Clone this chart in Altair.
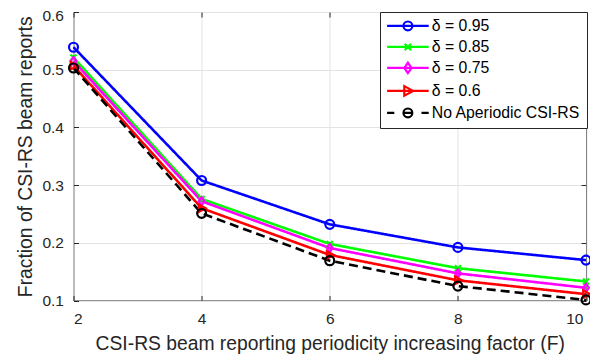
import altair as alt
import pandas as pd

F = [2, 4, 6, 8, 10]
Y_TICKS = [0.1, 0.2, 0.3, 0.4, 0.5, 0.6]
series = ["δ = 0.95", "δ = 0.85", "δ = 0.75", "δ = 0.6", "No Aperiodic CSI-RS"]
d095 = [0.539, 0.308, 0.232, 0.192, 0.170]
d085 = [0.521, 0.276, 0.198, 0.156, 0.133]
d075 = [0.515, 0.272, 0.191, 0.147, 0.122]
d060 = [0.507, 0.260, 0.179, 0.135, 0.111]
dnone = [0.503, 0.251, 0.169, 0.125, 0.101]
colors = ["#0000ff", "#00ff00", "#ff00ff", "#ff0000", "#000000"]
dashes = [[1, 0], [1, 0], [1, 0], [1, 0], [9, 5]]

values = [d095, d085, d075, d060, dnone]
rows = []
for i, (s, vals) in enumerate(zip(series, values)):
    for f, v in zip(F, vals):
        rows.append({"F": f, "value": v, "series": s, "k": i})
df = pd.DataFrame(rows)

FONT = "Liberation Sans"
TXT = "#262626"

xs = alt.Scale(domain=[2, 10], nice=False)
ys = alt.Scale(domain=[0.1, 0.6], nice=False)

x_enc = alt.X("F:Q", scale=xs,
              axis=alt.Axis(values=F, format="d", labelPadding=11, titlePadding=7,
                            labelOffset={"condition": {"test": "datum.value > 9", "value": -3}, "value": 0},
                            title="CSI-RS beam reporting periodicity increasing factor (F)"))
y_enc = alt.Y("value:Q", scale=ys,
              axis=alt.Axis(values=Y_TICKS, format=".1f", labelPadding=10, titlePadding=6,
                            labelOffset={"condition": {"test": "datum.value > 0.55", "value": 3.5}, "value": 0},
                            title="Fraction of CSI-RS beam reports"))

color_scale = alt.Scale(domain=series, range=colors)

plot_shapes = [
    ("circle", 80),
    ("M-1,-1L1,1M-1,1L1,-1", 36),
    ("M0,-1.3L0.9,0L0,1.3L-0.9,0Z", 40),
    ("M-0.9,-1.2L1.3,0L-0.9,1.2Z", 40),
    ("circle", 80),
]

layers = []
for s, c, dsh in zip(series, colors, dashes):
    layers.append(
        alt.Chart(df).transform_filter(alt.datum.series == s).mark_line(
            strokeWidth=2.6, color=c, strokeDash=dsh
        ).encode(x=x_enc, y=y_enc)
    )
for s, c, (shp, sz) in zip(series, colors, plot_shapes):
    layers.append(
        alt.Chart(df).transform_filter(alt.datum.series == s).mark_point(
            shape=shp, size=sz, strokeWidth=2.2, filled=False, color=c, opacity=1
        ).encode(x=x_enc, y=y_enc)
    )

legend_paths = [
    "M-5.2,0H5.2M1.1,0A1.1,1.1,0,1,1,-1.1,0A1.1,1.1,0,1,1,1.1,0",
    "M-5.2,0H5.2M-0.8,-0.8L0.8,0.8M-0.8,0.8L0.8,-0.8",
    "M-5.2,0H5.2M0,-1.3L0.9,0L0,1.3L-0.9,0Z",
    "M-5.2,0H5.2M-0.9,-1.2L1.3,0L-0.9,1.2Z",
    "M-5.2,0H-3.4M3.4,0H5.2M-1.1,0H1.1M1.1,0A1.1,1.1,0,1,1,-1.1,0A1.1,1.1,0,1,1,1.1,0",
]

leg_props = dict(
    title=None, orient="none", legendX=306.5, legendY=0,
    padding=6, fillColor="white", strokeColor=TXT, cornerRadius=0,
    symbolSize=64, symbolStrokeWidth=2.2, symbolOffset=14,
    labelOffset=16, labelFont=FONT, labelFontSize=15.8, labelColor="black",
    rowPadding=3, labelLimit=300,
)

legend_layer = alt.Chart(df).mark_point(opacity=0, filled=False).encode(
    x=x_enc, y=y_enc,
    color=alt.Color("series:N", scale=color_scale, legend=alt.Legend(**leg_props)),
    shape=alt.Shape("series:N", scale=alt.Scale(domain=series, range=legend_paths),
                    legend=alt.Legend(**leg_props)),
)
layers.append(legend_layer)

main = alt.layer(*layers)


def tick_axis(orient, values):
    return alt.Axis(orient=orient, offset=-5, tickSize=5, ticks=True, tickColor=TXT,
                    tickWidth=1, labels=False, domain=False, grid=False, title=None,
                    values=values)


ticks_a = alt.Chart(df).mark_point(opacity=0).encode(
    x=alt.X("F:Q", scale=xs, axis=tick_axis("bottom", F)),
    y=alt.Y("value:Q", scale=ys, axis=tick_axis("left", Y_TICKS)),
)
ticks_b = alt.Chart(df).mark_point(opacity=0).encode(
    x=alt.X("F:Q", scale=xs, axis=tick_axis("top", F)),
    y=alt.Y("value:Q", scale=ys, axis=tick_axis("right", Y_TICKS)),
)

chart = alt.layer(main, ticks_a, ticks_b).resolve_axis(
    x="independent", y="independent"
).properties(
    width=512.5, height=288.5,
    autosize=alt.AutoSizeParams(type="none"),
    padding={"left": 65.5, "top": 4, "right": 4, "bottom": 57},
).configure_view(
    stroke=TXT, strokeWidth=1
).configure_axis(
    labelFont=FONT, titleFont=FONT, labelFontSize=15.5, titleFontSize=19.3,
    labelColor=TXT, titleColor=TXT, titleFontWeight="normal",
    gridColor="#e3e3e3", gridWidth=1, domain=False, ticks=False,
)

chart.save("out.html", embed_options={"renderer": "svg", "actions": False})
